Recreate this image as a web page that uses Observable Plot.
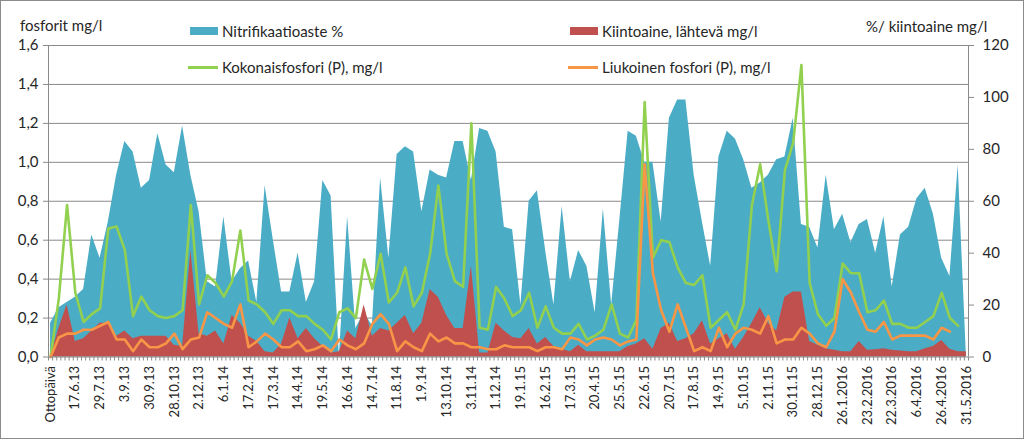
<!DOCTYPE html>
<html><head><meta charset="utf-8">
<script src="https://cdn.jsdelivr.net/npm/d3@7"></script>
<script src="https://cdn.jsdelivr.net/npm/@observablehq/plot@0.6"></script>
<style>
body{margin:0;background:#fff;}
#wrap{position:relative;width:1024px;height:439px;font-family:Lato,sans-serif;overflow:hidden;background:#fff;}
#chart{position:absolute;left:0;top:0;}
#border{position:absolute;left:0;top:0;width:1024px;height:439px;box-sizing:border-box;border:1px solid #8c8c8c;pointer-events:none;}
.t{position:absolute;font-size:15px;color:#262626;white-space:nowrap;line-height:16px;}
.sw{position:absolute;}
</style></head><body>
<div id="wrap">
<div id="chart"></div>
<div class="t" style="left:20px;top:17px;">fosforit mg/l</div>
<div class="t" style="left:866px;top:18px;">%/ kiintoaine mg/l</div>
<div class="sw" style="left:190px;top:27px;width:28px;height:8px;background:#4bacc6;"></div>
<div class="t" style="left:222px;top:23px;">Nitrifikaatioaste %</div>
<div class="sw" style="left:570px;top:27px;width:28px;height:8px;background:#c0504d;"></div>
<div class="t" style="left:602px;top:23px;">Kiintoaine, lähtevä mg/l</div>
<div class="sw" style="left:188px;top:66px;width:30px;height:3px;background:#92d050;"></div>
<div class="t" style="left:222px;top:59px;">Kokonaisfosfori (P), mg/l</div>
<div class="sw" style="left:568px;top:66px;width:30px;height:3px;background:#f79646;"></div>
<div class="t" style="left:602px;top:59px;">Liukoinen fosfori (P), mg/l</div>
<div id="border"></div>
</div>
<script>
// x-axis labels: one every 6 categories
const tickLabels = ["Ottopäivä","17.6.13","29.7.13","3.9.13","30.9.13","28.10.13","2.12.13","6.1.14","17.2.14","17.3.14","14.4.14","19.5.14","16.6.14","14.7.14","11.8.14","1.9.14","13.10.14","3.11.14","1.12.14","19.1.15","16.2.15","17.3.15","20.4.15","25.5.15","22.6.15","20.7.15","17.8.15","14.9.15","5.10.15","2.11.15","30.11.15","28.12.15","26.1.2016","23.2.2016","22.3.2016","6.4.2016","26.4.2016","31.5.2016"];
const labelStep = 6;
const nCategories = 223;
const sampleStep = 2; // values read at every 2nd category

// Nitrifikaatioaste % (right axis)
const nitrifikaatio = [13,19,21,23,26,47,38,52,70,83,
79,65,68,86,74,71,89,70,56,29,
27,54,29,34,37,21,66,45,25,25,
40,21,29,68,62,0,54,11,17,12,
69,38,78,81,79,56,72,70,69,83,
83,68,88,87,79,50,49,20,60,64,
41,20,58,29,41,35,17,57,20,53,
87,85,75,75,52,92,99,99,70,52,
35,77,87,84,76,65,67,70,76,77,
92,51,50,42,70,49,55,44,51,53,
40,54,27,47,50,61,65,55,38,31,
74,0];
// Kiintoaine, lähtevä mg/l (right axis)
const kiintoaine = [0,11,20,6,7,10,13,13,8,10,
7,8,8,8,8,4.5,4,41,9,8,
10,5,16,13,8,6,2,1.5,5,15,
7,11,7,4,1.5,2,10,7,20,8,
11,10,13,16,9,13,26,23,16,11,
11,35,1.5,1.5,13,10,7.5,7,11,5,
7.5,4,3,2,4.5,2,2,2,2,2,
4,5,7,3,11,13,6,7,9,14,
5,7,9,3,7.5,13,19,13,10,23,
25,25,6,4.5,3.2,2.6,2,2,6,2.6,
2.8,3.2,2.6,2.3,2,2,3.2,4,6.4,3,
2,2];
// Kokonaisfosfori (P), mg/l (left axis)
const kokonaisP = [0,0.3,0.78,0.33,0.18,0.22,0.25,0.66,0.67,0.55,
0.21,0.31,0.24,0.21,0.2,0.21,0.24,0.78,0.27,0.42,
0.38,0.31,0.39,0.65,0.29,0.27,0.23,0.17,0.24,0.24,
0.21,0.21,0.17,0.14,0.09,0.23,0.25,0.2,0.5,0.35,
0.53,0.28,0.33,0.46,0.26,0.33,0.53,0.88,0.53,0.39,
0.36,1.2,0.15,0.14,0.36,0.3,0.21,0.24,0.33,0.15,
0.26,0.15,0.12,0.12,0.17,0.09,0.11,0.14,0.27,0.12,
0.1,0.19,1.31,0.51,0.6,0.59,0.46,0.38,0.37,0.42,
0.15,0.19,0.23,0.14,0.27,0.78,0.99,0.7,0.44,0.96,
1.1,1.5,0.38,0.22,0.16,0.2,0.48,0.43,0.43,0.23,
0.24,0.29,0.17,0.17,0.15,0.15,0.18,0.21,0.33,0.2,
0.16,null];
// Liukoinen fosfori (P), mg/l (left axis)
const liukoinenP = [0,0.1,0.12,0.12,0.14,0.14,0.16,0.18,0.09,0.09,
0.03,0.09,0.05,0.05,0.07,0.12,0.04,0.09,0.1,0.23,
0.2,0.17,0.15,0.27,0.05,0.08,0.12,0.09,0.05,0.05,
0.08,0.03,0.04,0.06,0.03,0.09,0.06,0.04,0.07,0.17,
0.22,0.17,0.03,0.08,0.05,0.03,0.12,0.08,0.1,0.07,
0.07,0.05,0.05,0.04,0.04,0.06,0.05,0.05,0.05,0.03,
0.05,0.05,0.04,0.1,0.09,0.06,0.09,0.1,0.09,0.06,
0.08,0.09,0.99,0.43,0.24,0.13,0.27,0.15,0.03,0.05,
0.03,0.15,0.05,0.12,0.15,0.14,0.12,0.21,0.07,0.09,
0.09,0.15,0.12,0.07,0.05,0.13,0.4,0.33,0.23,0.14,
0.13,0.18,0.09,0.11,0.11,0.11,0.11,0.09,0.15,0.13,
null,null];

const leftTicks = [0,0.2,0.4,0.6,0.8,1.0,1.2,1.4,1.6];
const rightTicks = [0,20,40,60,80,100,120];
const ratio = 1.6 / 120; // right-axis unit -> left-axis unit

const rows = nitrifikaatio.map((_, k) => ({
  i: k * sampleStep,
  nitri: nitrifikaatio[k] * ratio,
  kiinto: kiintoaine[k] * ratio,
  tot: kokonaisP[k],
  liuk: liukoinenP[k]
}));

const gray = "#8a8a8a";
const chart = Plot.plot({
  width: 1024, height: 439,
  marginLeft: 48, marginRight: 56, marginTop: 45, marginBottom: 82.5,
  x: {type: "linear", domain: [-0.5, nCategories - 0.5]},
  y: {domain: [0, 1.6]},
  style: {fontFamily: "Lato, sans-serif", fontSize: "15px", color: "#262626", background: "transparent"},
  marks: [
    Plot.ruleY(leftTicks.slice(1), {stroke: gray, strokeWidth: 1}),
    Plot.areaY(rows, {x: "i", y: "nitri", fill: "#4bacc6"}),
    Plot.areaY(rows, {x: "i", y: "kiinto", fill: "#c0504d"}),
    Plot.lineY(rows, {x: "i", y: "tot", stroke: "#92d050", strokeWidth: 2.6}),
    Plot.lineY(rows, {x: "i", y: "liuk", stroke: "#f79646", strokeWidth: 2.6}),
    Plot.ruleX([-0.5], {stroke: gray}),
    Plot.ruleX([nCategories - 0.5], {stroke: gray}),
    Plot.ruleY([0], {stroke: gray}),
    Plot.axisY({anchor: "left", ticks: leftTicks, tickFormat: d => d.toFixed(1).replace(".", ","), tickSize: 5, tickPadding: 5, label: null, stroke: gray, fontSize: 15}),
    Plot.axisY({anchor: "right", ticks: rightTicks.map(r => r * ratio), tickFormat: d => String(Math.round(d / ratio)), tickSize: 5, tickPadding: 9, label: null, stroke: gray, fontSize: 15}),
    Plot.axisX({ticks: d3.range(0, nCategories + 1).map(j => j - 0.5), tickSize: 4, tickFormat: () => "", label: null, stroke: gray}),
    Plot.axisX({ticks: d3.range(0, nCategories, labelStep), tickFormat: i => tickLabels[Math.round(i / labelStep)], tickRotate: -90, tickSize: 0, tickPadding: 9, label: null, fontSize: 13})
  ]
});
document.getElementById("chart").appendChild(chart);
</script>
</body></html>
